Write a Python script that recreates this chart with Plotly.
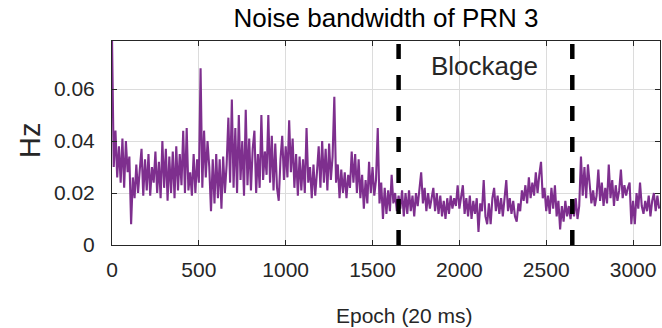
import plotly.graph_objects as go

# Epochs sampled every 10 epochs (20 ms each)
epochs = list(range(0, 3160, 10))

noise_bw = [
    0.080, 0.030, 0.044, 0.026, 0.038, 0.024, 0.041, 0.022, 0.040, 0.028,
    0.034, 0.008, 0.026, 0.018, 0.031, 0.020, 0.029, 0.037, 0.019, 0.033,
    0.021, 0.035, 0.019, 0.030, 0.024, 0.036, 0.020, 0.032, 0.018, 0.040,
    0.022, 0.037, 0.017, 0.034, 0.020, 0.036, 0.018, 0.038, 0.021, 0.035,
    0.023, 0.044, 0.020, 0.045, 0.021, 0.028, 0.019, 0.035, 0.020, 0.033,
    0.024, 0.068, 0.022, 0.044, 0.026, 0.040, 0.030, 0.013, 0.033, 0.016,
    0.035, 0.018, 0.033, 0.014, 0.034, 0.020, 0.031, 0.049, 0.024, 0.056,
    0.022, 0.045, 0.020, 0.050, 0.025, 0.040, 0.019, 0.052, 0.023, 0.041,
    0.021, 0.037, 0.044, 0.020, 0.035, 0.022, 0.050, 0.025, 0.036, 0.027,
    0.050, 0.024, 0.042, 0.021, 0.039, 0.022, 0.017, 0.033, 0.042, 0.025,
    0.038, 0.026, 0.048, 0.028, 0.041, 0.022, 0.035, 0.019, 0.034, 0.021,
    0.033, 0.020, 0.045, 0.024, 0.030, 0.018, 0.031, 0.019, 0.028, 0.038,
    0.022, 0.040, 0.024, 0.037, 0.021, 0.039, 0.025, 0.034, 0.057, 0.024,
    0.031, 0.018, 0.029, 0.020, 0.028, 0.018, 0.027, 0.022, 0.036, 0.024,
    0.035, 0.020, 0.033, 0.018, 0.027, 0.014, 0.025, 0.016, 0.032, 0.020,
    0.030, 0.019, 0.025, 0.045, 0.016, 0.024, 0.010, 0.022, 0.012, 0.021,
    0.013, 0.027, 0.016, 0.020, 0.013, 0.019, 0.014, 0.021, 0.011, 0.020,
    0.012, 0.021, 0.013, 0.019, 0.011, 0.020, 0.015, 0.023, 0.028, 0.016,
    0.022, 0.013, 0.020, 0.014, 0.019, 0.022, 0.013, 0.020, 0.012, 0.019,
    0.011, 0.017, 0.010, 0.018, 0.012, 0.019, 0.014, 0.018, 0.015, 0.023,
    0.014, 0.019, 0.023, 0.012, 0.018, 0.011, 0.019, 0.010, 0.017, 0.012,
    0.018, 0.005, 0.016, 0.013, 0.025, 0.011, 0.008, 0.016, 0.008, 0.018,
    0.022, 0.013, 0.019, 0.012, 0.018, 0.011, 0.019, 0.025, 0.013, 0.018,
    0.012, 0.017, 0.011, 0.009, 0.016, 0.013, 0.021, 0.017, 0.023, 0.016,
    0.026, 0.018, 0.024, 0.019, 0.028, 0.020, 0.027, 0.032, 0.018, 0.022,
    0.013, 0.019, 0.012, 0.022, 0.014, 0.023, 0.011, 0.017, 0.006, 0.015,
    0.009, 0.017, 0.011, 0.015, 0.010, 0.016, 0.011, 0.018, 0.010, 0.015,
    0.034, 0.019, 0.030, 0.018, 0.031, 0.022, 0.016, 0.021, 0.015, 0.019,
    0.029, 0.017, 0.024, 0.015, 0.022, 0.016, 0.031, 0.018, 0.025, 0.015,
    0.023, 0.017, 0.021, 0.029, 0.018, 0.023, 0.019, 0.022, 0.024, 0.008,
    0.017, 0.008, 0.020, 0.014, 0.024, 0.015, 0.012, 0.017, 0.013, 0.019,
    0.011, 0.017, 0.020, 0.013, 0.019, 0.014,
]

blockage_bounds = [1650, 2650]
blockage_label_pos = (2145, 0.0689)

x_ticks = [0, 500, 1000, 1500, 2000, 2500, 3000]
y_ticks = [0, 0.02, 0.04, 0.06]
y_tick_labels = ["0", "0.02", "0.04", "0.06"]

x_range = [0, 3155]
y_range = [0, 0.0785]

FONT = "Liberation Sans, Arial, sans-serif"
AX_COL = "#262626"

fig = go.Figure()
fig.add_trace(go.Scatter(
    x=epochs, y=noise_bw, mode="lines",
    line=dict(color="#7E2F8E", width=2.1),
    showlegend=False, hoverinfo="skip",
))

for b in blockage_bounds:
    fig.add_shape(type="line", xref="x", yref="y domain",
                  x0=b, x1=b, y0=0, y1=1,
                  line=dict(color="black", width=4.5, dash="15px,16px"))

fig.add_annotation(x=blockage_label_pos[0], y=blockage_label_pos[1],
                   xref="x", yref="y", text="Blockage", showarrow=False,
                   xanchor="center", yanchor="middle",
                   font=dict(family=FONT, size=26, color=AX_COL))

fig.add_annotation(x=(404 - 112) / 548, y=(245 - 315) / 204,
                   xref="paper", yref="paper",
                   text="Epoch (20 ms)", showarrow=False,
                   xanchor="center", yanchor="middle",
                   font=dict(family=FONT, size=21, color=AX_COL))
fig.add_annotation(x=(30 - 112) / 548, y=(245 - 141) / 204,
                   xref="paper", yref="paper",
                   text="Hz", showarrow=False, textangle=-90,
                   xanchor="center", yanchor="middle",
                   font=dict(family=FONT, size=29, color=AX_COL))

fig.update_layout(
    width=662, height=328,
    margin=dict(l=112, r=2, t=41, b=83),
    paper_bgcolor="white", plot_bgcolor="white",
    title=dict(text="Noise bandwidth of PRN 3", x=0.5, xref="paper",
               y=1 - 18 / 328, yref="container", yanchor="middle",
               xanchor="center",
               font=dict(family=FONT, size=26, color="black")),
    font=dict(family=FONT, size=21, color=AX_COL),
)

fig.update_xaxes(
    range=x_range, tickvals=x_ticks, ticktext=[str(v) for v in x_ticks],
    showgrid=True, gridcolor="#dcdcdc", gridwidth=1,
    showline=True, linecolor=AX_COL, linewidth=1, mirror="ticks",
    ticks="inside", ticklen=5, tickcolor=AX_COL,
    tickfont=dict(family=FONT, size=21, color=AX_COL),
    zeroline=False, ticklabelstandoff=6,
)
fig.update_yaxes(
    range=y_range, tickvals=y_ticks, ticktext=y_tick_labels,
    showgrid=True, gridcolor="#dcdcdc", gridwidth=1,
    showline=True, linecolor=AX_COL, linewidth=1, mirror="ticks",
    ticks="inside", ticklen=5, tickcolor=AX_COL,
    tickfont=dict(family=FONT, size=21, color=AX_COL),
    zeroline=False, ticklabelstandoff=12,
)

fig.write_html("out.html")
